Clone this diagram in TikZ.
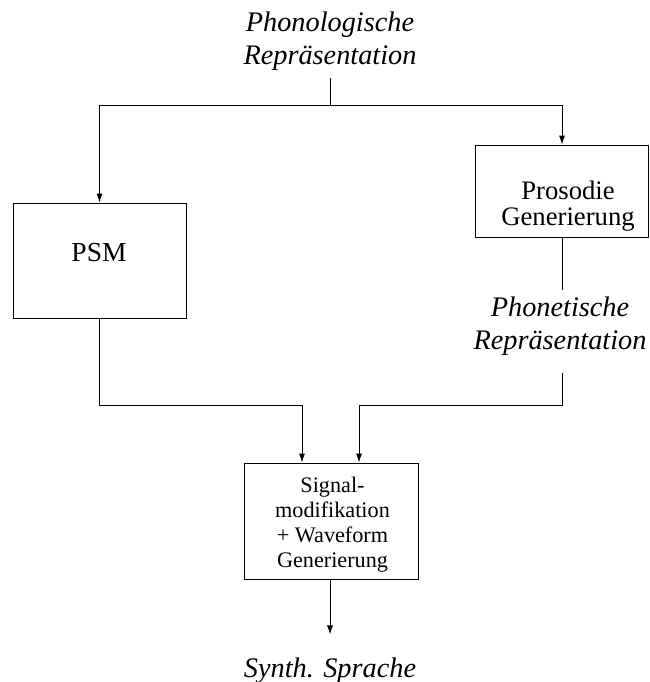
\documentclass[tikz,border=0pt]{standalone}
\usepackage{fontspec}
\setmainfont{Liberation Serif}
\usetikzlibrary{arrows.meta}

\tikzset{
  box/.style={draw, line width=0.9, inner sep=0},
  inlabel/.style={align=center, inner sep=0, font=\fontsize{28.3}{33}\selectfont\itshape},
  boxtext/.style={align=center, inner sep=0, font=\fontsize{26.7}{26}\selectfont},
  sigtext/.style={align=center, inner sep=0, font=\fontsize{22.2}{25}\selectfont},
  line/.style={line width=0.9},
  arrow/.style={line width=0.9, -{Latex[length=9pt, width=6pt]}}
}

\begin{document}
\begin{tikzpicture}[x=1pt, y=-1pt]
      \useasboundingbox (0,0) rectangle (649,682);
      % Ein- und Ausgaben
      \node[inlabel, anchor=north] (phon) at (330,11.2) {Phonologische\\Repräsentation};
      \node[inlabel, anchor=north] (phonet) at (560,296.2) {Phonetische\\Repräsentation};
      \node[inlabel, anchor=base] (synth) at (330,677.3) {Synth. Sprache};
      % Bloecke
      \node[box, minimum width=173, minimum height=115] (psm) at (99.5,260.5) {};
      \node[boxtext, anchor=base, font=\fontsize{27.5}{33}\selectfont] (psmtext) at (99,261) {PSM};
      \node[box, minimum width=173, minimum height=92] (pros) at (562,191) {};
      \node[boxtext, anchor=north] (prostext) at (568,181) {Prosodie\\Generierung};
      \node[box, minimum width=174, minimum height=116] (sig) at (331,521) {};
      \node[sigtext, anchor=north] (sigtext) at (332.5,476.7) {Signal-\\modifikation\\+ Waveform\\Generierung};
      % Verbindungen
      \coordinate (split) at (330,105);
      \draw[line] ([yshift=-8]phon.south) -- (split);
      \draw[arrow] (split) -| (psm.north);
      \draw[arrow] (split) -| (pros.north);
      \draw[line] (pros.south) -- ([yshift=6]phonet.north -| pros.south);
      \draw[arrow] (psm.south) -- ++(0,87) -| ([xshift=-29]sig.north);
      \draw[arrow] ([yshift=-18]phonet.south -| pros.south) -- (562,405) -| ([xshift=28]sig.north);
      \draw[arrow] (sig.south -| synth.north) -- ([yshift=23]synth.north);
\end{tikzpicture}
\end{document}
